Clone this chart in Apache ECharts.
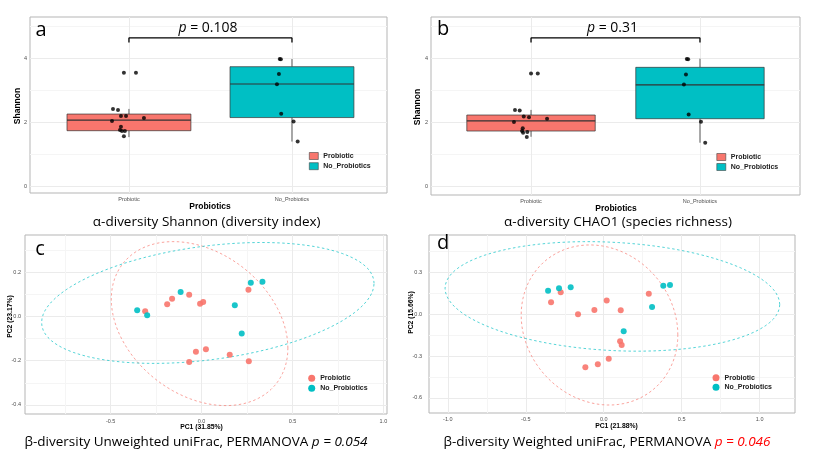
<!DOCTYPE html>
<html><head><meta charset="utf-8">
<script src="https://cdn.jsdelivr.net/npm/echarts@6/dist/echarts.min.js"></script>
<style>html,body{margin:0;padding:0;background:#fff}#c{width:816px;height:456px}</style>
</head><body><div id="c"></div>
<script>
// ---------- data ----------
const categories = ['Probiotic', 'No_Probiotics'];
const groups = ['Probiotic', 'No_Probiotics'];
const groupColors = ['#F8766D', '#00BFC4'];

// panel a : alpha diversity Shannon  (box stats: low, q1, median, q3, high)
const aBoxProbiotic = [1.55, 1.75, 2.08, 2.27, 2.43];
const aBoxNoProbiotics = [1.41, 2.16, 3.21, 3.75, 3.99];
const aPtsProbiotic = [[0.969,3.56],[1.043,3.56],[0.902,2.43],[0.933,2.40],[0.951,2.21],[0.982,2.21],[1.092,2.15],[0.896,2.05],[0.951,1.87],[0.945,1.77],[0.957,1.74],[0.975,1.74],[0.969,1.58]];
const aPtsNoProbiotics = [[1.925,3.99],[1.932,3.98],[1.920,3.52],[1.908,3.20],[1.934,2.28],[2.010,2.04],[2.035,1.41]];
const aP = '0.108';

// panel b : alpha diversity CHAO1
const bBoxProbiotic = [1.56, 1.74, 2.06, 2.24, 2.40];
const bBoxNoProbiotics = [1.375, 2.125, 3.18, 3.73, 4.0];
const bPtsProbiotic = [[1.000,3.54],[1.040,3.54],[0.905,2.40],[0.933,2.38],[0.957,2.19],[0.988,2.17],[1.095,2.12],[0.899,2.02],[0.951,1.83],[0.947,1.74],[0.953,1.69],[0.978,1.71],[0.975,1.55]];
const bPtsNoProbiotics = [[1.922,3.99],[1.930,3.98],[1.917,3.51],[1.905,3.19],[1.933,2.26],[2.006,2.03],[2.031,1.375]];
const bP = '0.31';

// panel c : unweighted uniFrac PCoA
const cProbiotic = [[-0.310,0.023],[-0.189,0.054],[-0.162,0.079],[-0.068,0.097],[-0.008,0.057],[0.009,0.065],[0.258,0.120],[-0.031,-0.160],[0.024,-0.149],[-0.068,-0.206],[0.155,-0.173],[0.260,-0.203]];
const cNoProbiotics = [[-0.354,0.027],[-0.299,0.005],[-0.115,0.110],[0.183,0.050],[0.271,0.152],[0.335,0.156],[0.221,-0.078]];

// panel d : weighted uniFrac PCoA
const dProbiotic = [[-0.276,0.157],[-0.338,0.085],[-0.165,-0.001],[-0.060,0.030],[0.019,0.097],[0.109,0.028],[0.289,0.147],[0.105,-0.194],[0.115,-0.221],[0.032,-0.319],[-0.038,-0.359],[-0.118,-0.380]];
const dNoProbiotics = [[-0.357,0.168],[-0.287,0.186],[-0.212,0.193],[0.310,0.052],[0.128,-0.122],[0.382,0.204],[0.425,0.209]];

const yTicksAB = [0, 2, 4];
const xTicksC = [-0.5, 0, 0.5, 1.0];
const yTicksC = [-0.4, -0.2, 0, 0.2];
const xTicksD = [-1.0, -0.5, 0, 0.5, 1.0];
const yTicksD = [-0.6, -0.3, 0, 0.3];

// ---------- helpers ----------
const SANS = '"Liberation Sans", Arial, sans-serif';
const OPEN = '"Open Sans", "Liberation Sans", sans-serif';
const MAJ = '#ebebeb', MIN = '#f5f5f5';
const BOXW = 0.76;

// stat_ellipse-like 95% normal confidence ellipse of the group's points
function ellipse(pts, level) {
  const n = pts.length;
  let mx = 0, my = 0;
  pts.forEach(p => { mx += p[0]; my += p[1]; });
  mx /= n; my /= n;
  let sxx = 0, syy = 0, sxy = 0;
  pts.forEach(p => { const dx = p[0]-mx, dy = p[1]-my; sxx += dx*dx; syy += dy*dy; sxy += dx*dy; });
  sxx /= (n-1); syy /= (n-1); sxy /= (n-1);
  const a = Math.sqrt(sxx), b = sxy / a, c = Math.sqrt(syy - b*b);
  const dfd = n - 1;
  const F = dfd / 2 * (Math.pow(1 - level, -2 / dfd) - 1);
  const r = Math.sqrt(2 * F);
  const out = [];
  const seg = 90;
  for (let i = 0; i <= seg; i++) {
    const t = 2 * Math.PI * i / seg, ct = Math.cos(t), st = Math.sin(t);
    out.push([mx + r * ct * a, my + r * (ct * b + st * c)]);
  }
  return out;
}

function range(a, b, step) { const o = []; for (let v = a; v <= b + 1e-9; v += step) o.push(Math.round(v*1000)/1000); return o; }

function boxSeries(name, gi, x, stats, color) {
  return {
    type: 'custom', name, xAxisIndex: gi, yAxisIndex: gi, z: 2,
    itemStyle: {color},
    encode: {x: 0, y: [1,2,3,4,5]},
    data: [[x].concat(stats)],
    renderItem: function (params, api) {
      const xv = api.value(0), h = BOXW / 2;
      const low = api.coord([xv, api.value(1)]);
      const q1 = api.coord([xv, api.value(2)]);
      const q3 = api.coord([xv, api.value(4)]);
      const high = api.coord([xv, api.value(5)]);
      const tl = api.coord([xv - h, api.value(4)]);
      const br = api.coord([xv + h, api.value(2)]);
      const ml = api.coord([xv - h, api.value(3)]);
      const mr = api.coord([xv + h, api.value(3)]);
      const ls = {stroke: '#333', lineWidth: 0.8};
      return {type: 'group', children: [
        {type: 'line', shape: {x1: low[0], y1: low[1], x2: q1[0], y2: q1[1]}, style: ls},
        {type: 'line', shape: {x1: q3[0], y1: q3[1], x2: high[0], y2: high[1]}, style: ls},
        {type: 'rect', shape: {x: tl[0], y: tl[1], width: br[0]-tl[0], height: br[1]-tl[1]}, style: {fill: color, stroke: '#333', lineWidth: 0.7}},
        {type: 'line', shape: {x1: ml[0], y1: ml[1], x2: mr[0], y2: mr[1]}, style: {stroke: '#333', lineWidth: 1.2}}
      ]};
    }
  };
}

function jitterSeries(gi, pts) {
  return {type: 'scatter', name: 'samples', xAxisIndex: gi, yAxisIndex: gi, z: 5,
    symbolSize: 4, itemStyle: {color: '#000'}, data: pts, silent: true};
}
function bracketSeries(gi, yTop, drop) {
  return {type: 'line', name: 'bracket', xAxisIndex: gi, yAxisIndex: gi, symbol: 'none', silent: true, z: 6,
    lineStyle: {color: '#000', width: 1.3},
    data: [[1, yTop - drop], [1, yTop], [2, yTop], [2, yTop - drop]]};
}
function pointSeries(name, gi, pts, color) {
  return {type: 'scatter', name, xAxisIndex: gi, yAxisIndex: gi, z: 5, symbolSize: 6,
    itemStyle: {color, opacity: 0.9}, data: pts};
}
function ellipseSeries(name, gi, pts, color) {
  return {type: 'line', name, xAxisIndex: gi, yAxisIndex: gi, z: 1, symbol: 'none', silent: true,
    lineStyle: {color, width: 0.9, type: [2.5, 2.5], opacity: 0.75},
    data: ellipse(pts, 0.95)};
}

const lbl = {fontSize: 5.5, color: '#4d4d4d', fontFamily: SANS};

function valAxis(gi, min, max, labels, allTicks, colors, fmt, margin) {
  return {
    gridIndex: gi, type: 'value', min, max,
    axisLine: {show: false},
    axisTick: {show: false, customValues: allTicks},
    axisLabel: Object.assign({customValues: labels, formatter: fmt, margin}, lbl),
    splitLine: {show: true, lineStyle: {color: colors, width: 1}}
  };
}

const fmt1 = v => v.toFixed(1);

const grids = [
  {left: 30, top: 17, width: 357, height: 176},
  {left: 431, top: 17, width: 369, height: 178},
  {left: 25, top: 235, width: 362, height: 179},
  {left: 429, top: 235, width: 366, height: 178}
].map(g => Object.assign({show: true, borderColor: '#b5b5b5', borderWidth: 1, backgroundColor: '#fff'}, g));

const xAxes = [
  valAxis(0, 0.393, 2.583, [1, 2], [1, 2], [MAJ], v => categories[Math.round(v) - 1], 3),
  valAxis(1, 0.408, 2.592, [1, 2], [1, 2], [MAJ], v => categories[Math.round(v) - 1], 3),
  valAxis(2, -0.971, 1.020, xTicksC, range(-0.75, 1.0, 0.25), [MIN, MAJ], fmt1, 4),
  valAxis(3, -1.121, 1.227, xTicksD, range(-1.0, 1.0, 0.25), [MAJ, MIN], fmt1, 3)
];
const yAxes = [
  valAxis(0, -0.197, 5.303, yTicksAB, range(0, 5, 1), [MAJ, MIN], v => String(v), 3),
  valAxis(1, -0.259, 5.303, yTicksAB, range(0, 5, 1), [MAJ, MIN], v => String(v), 3),
  valAxis(2, -0.441, 0.367, yTicksC, range(-0.4, 0.3, 0.1), [MAJ, MIN], fmt1, 4),
  valAxis(3, -0.708, 0.567, yTicksD, range(-0.6, 0.45, 0.15), [MAJ, MIN], fmt1, 7)
];

const series = [
  boxSeries(groups[0], 0, 1, aBoxProbiotic, groupColors[0]),
  boxSeries(groups[1], 0, 2, aBoxNoProbiotics, groupColors[1]),
  jitterSeries(0, aPtsProbiotic.concat(aPtsNoProbiotics)),
  bracketSeries(0, 4.65, 0.14),
  boxSeries(groups[0], 1, 1, bBoxProbiotic, groupColors[0]),
  boxSeries(groups[1], 1, 2, bBoxNoProbiotics, groupColors[1]),
  jitterSeries(1, bPtsProbiotic.concat(bPtsNoProbiotics)),
  bracketSeries(1, 4.65, 0.14),
  ellipseSeries('ellipse', 2, cProbiotic, groupColors[0]),
  ellipseSeries('ellipse', 2, cNoProbiotics, groupColors[1]),
  pointSeries(groups[0], 2, cProbiotic, groupColors[0]),
  pointSeries(groups[1], 2, cNoProbiotics, groupColors[1]),
  ellipseSeries('ellipse', 3, dProbiotic, groupColors[0]),
  ellipseSeries('ellipse', 3, dNoProbiotics, groupColors[1]),
  pointSeries(groups[0], 3, dProbiotic, groupColors[0]),
  pointSeries(groups[1], 3, dNoProbiotics, groupColors[1])
];

function legend(left, top, icon, w, h, gap) {
  return {data: groups, left, top, orient: 'vertical', icon, itemWidth: w, itemHeight: h, itemGap: gap,
    padding: 0, selectedMode: false,
    itemStyle: icon === 'rect' ? {borderColor: '#444', borderWidth: 0.6} : {},
    textStyle: {fontSize: 7, fontWeight: 'bold', color: '#222', fontFamily: SANS, lineHeight: 7}};
}

function txt(x, y, text, size, opts) {
  return Object.assign({type: 'text', x, y, silent: true, z: 100,
    style: Object.assign({text, fontSize: size, fontFamily: SANS, fill: '#000', align: 'center', verticalAlign: 'middle'}, (opts && opts.style) || {})},
    opts && opts.rotation !== undefined ? {rotation: opts.rotation} : {});
}
function rich(x, y, text, size, rs, extra) {
  const r = {};
  Object.keys(rs).forEach(k => { r[k] = Object.assign({fontSize: size, fontFamily: OPEN, fill: '#000'}, rs[k]); });
  return {type: 'text', x, y, silent: true, z: 100,
    style: Object.assign({text, fontSize: size, fontFamily: OPEN, fill: '#000', align: 'center', verticalAlign: 'middle', rich: r}, extra || {})};
}

const graphics = [
  // panel letters
  txt(41, 30, 'a', 20, {style: {fontFamily: OPEN}}),
  txt(443, 29, 'b', 20, {style: {fontFamily: OPEN}}),
  txt(40, 249, 'c', 20, {style: {fontFamily: OPEN}}),
  txt(443, 243, 'd', 20, {style: {fontFamily: OPEN}}),
  // p values
  rich(208, 28.5, '{i|p}{n| = ' + aP + '}', 14, {i: {fontStyle: 'italic'}, n: {}}),
  rich(612.5, 28.5, '{i|p}{n| = ' + bP + '}', 14, {i: {fontStyle: 'italic'}, n: {}}),
  // axis titles
  txt(210, 207, 'Probiotics', 8.5, {style: {fontWeight: 'bold'}}),
  txt(616, 208.5, 'Probiotics', 8.5, {style: {fontWeight: 'bold'}}),
  txt(18, 106, 'Shannon', 8.5, {style: {fontWeight: 'bold'}, rotation: Math.PI / 2}),
  txt(418, 107, 'Shannon', 8.5, {style: {fontWeight: 'bold'}, rotation: Math.PI / 2}),
  txt(201.5, 426.7, 'PC1 (31.85%)', 6.8, {style: {fontWeight: 'bold'}}),
  txt(616.5, 426.3, 'PC1 (21.88%)', 6.8, {style: {fontWeight: 'bold'}}),
  txt(10, 316.5, 'PC2 (23.17%)', 6.8, {style: {fontWeight: 'bold'}, rotation: Math.PI / 2}),
  txt(411.5, 312.5, 'PC2 (15.66%)', 6.8, {style: {fontWeight: 'bold'}, rotation: Math.PI / 2}),
  // captions
  rich(206.7, 222.5, '{n|α-diversity Shannon (diversity index)}', 13.5, {n: {}}),
  rich(618, 222, '{n|α-diversity CHAO1 (species richness)}', 13.5, {n: {}}),
  rich(196, 442, '{n|β-diversity Unweighted uniFrac, PERMANOVA }{i|p = 0.054}', 13.5, {n: {}, i: {fontStyle: 'italic'}}),
  rich(607, 442, '{n|β-diversity Weighted uniFrac, PERMANOVA }{i|p = 0.046}', 13.5, {n: {}, i: {fontStyle: 'italic', fill: '#ff0000'}})
];

const chart = echarts.init(document.getElementById('c'), null, {renderer: 'canvas'});
chart.setOption({
  backgroundColor: '#fff',
  animation: false,
  grid: grids,
  xAxis: xAxes,
  yAxis: yAxes,
  legend: [
    legend(309, 152.2, 'rect', 9, 7, 2.6),
    legend(716.5, 153.2, 'rect', 9, 7, 2.4),
    legend(308.2, 374.8, 'circle', 7, 7, 3),
    legend(712.5, 374.2, 'circle', 7, 7, 2.6)
  ],
  series,
  graphic: graphics
});
</script>
</body></html>
